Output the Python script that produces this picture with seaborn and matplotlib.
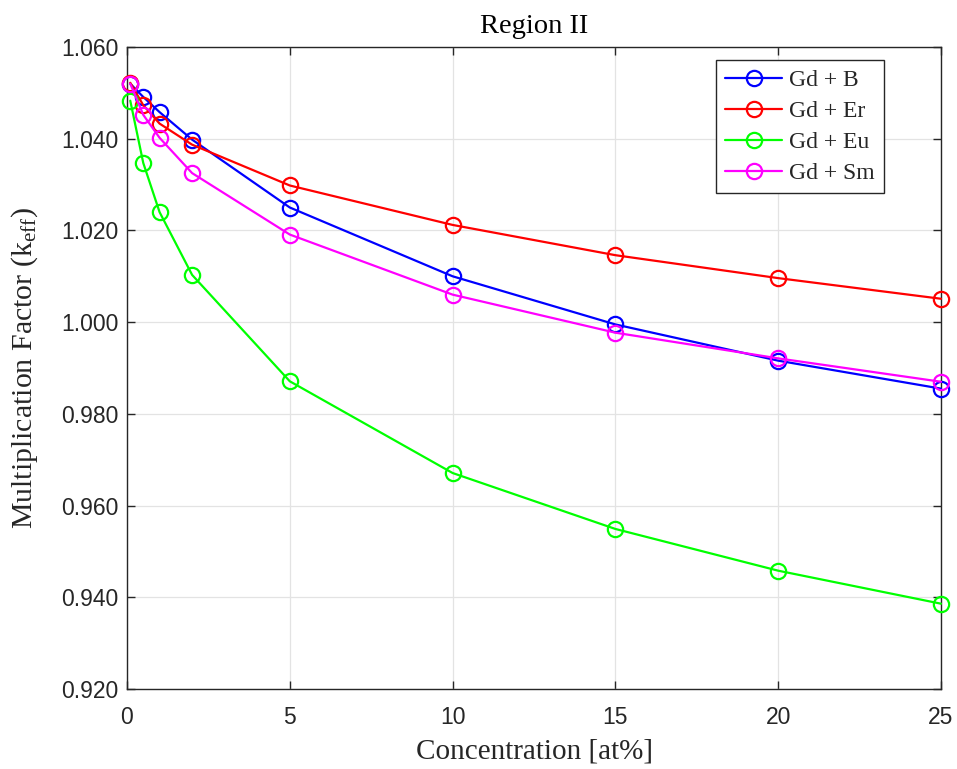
import matplotlib
matplotlib.use("Agg")
import matplotlib.pyplot as plt
import seaborn as sns
import pandas as pd
from matplotlib.lines import Line2D

concentration = [0.1, 0.5, 1, 2, 5, 10, 15, 20, 25]
gd_b = [1.0520, 1.0491, 1.0458, 1.0398, 1.0250, 1.0100, 0.9995, 0.9916, 0.9855]
gd_er = [1.0522, 1.0473, 1.0433, 1.0387, 1.0298, 1.0212, 1.0146, 1.0096, 1.0051]
gd_eu = [1.0483, 1.0347, 1.0240, 1.0103, 0.9871, 0.9671, 0.9549, 0.9458, 0.9386]
gd_sm = [1.0520, 1.0452, 1.0402, 1.0325, 1.0191, 1.0060, 0.9977, 0.9921, 0.9870]

series_names = ["Gd + B", "Gd + Er", "Gd + Eu", "Gd + Sm"]
series_values = [gd_b, gd_er, gd_eu, gd_sm]
series_colors = ["#0000ff", "#ff0000", "#00ff00", "#ff00ff"]

x_ticks = [0, 5, 10, 15, 20, 25]
y_ticks = [0.92, 0.94, 0.96, 0.98, 1.00, 1.02, 1.04, 1.06]

sns.set_theme(style="ticks")
plt.rcParams["font.family"] = ["Liberation Serif", "DejaVu Serif"]
plt.rcParams["mathtext.fontset"] = "custom"
plt.rcParams["mathtext.rm"] = "Liberation Serif"
plt.rcParams["mathtext.it"] = "Liberation Serif:italic"

rows = []
for name, vals in zip(series_names, series_values):
    for xv, yv in zip(concentration, vals):
        rows.append({"Concentration": xv, "keff": yv, "Series": name})
df = pd.DataFrame(rows)

fig = plt.figure(figsize=(9.57, 7.69), dpi=100)
ax = fig.add_axes([127 / 957, 1 - 689 / 769, (941 - 127) / 957, (689 - 47) / 769])

for name, color in zip(series_names, series_colors):
    sub = df[df["Series"] == name]
    sns.lineplot(data=sub, x="Concentration", y="keff", ax=ax, color=color,
                 marker="o", markersize=11, markerfacecolor="none",
                 markeredgecolor=color, markeredgewidth=1.6, linewidth=1.6,
                 label=name, legend=False, zorder=3, clip_on=False)

ax.set_xlim(0, 25)
ax.set_ylim(0.92, 1.06)
ax.set_xticks(x_ticks)
ax.set_yticks(y_ticks)
ax.set_yticklabels([f"{v:.3f}" for v in y_ticks])
ax.grid(True, color="#e3e3e3", linewidth=0.9, zorder=0)
ax.tick_params(direction="in", length=6, width=1.0, labelsize=16.5, colors="#262626",
               top=True, right=True)
ax.tick_params(axis="y", pad=6)
ax.tick_params(axis="x", pad=12)
for lab in ax.get_xticklabels() + ax.get_yticklabels():
    lab.set_fontfamily(["Liberation Sans", "DejaVu Sans"])
for sp in ax.spines.values():
    sp.set_visible(True)
    sp.set_color("#262626")
    sp.set_linewidth(1.0)

ax.set_xlabel("Concentration [at%]", fontsize=21, color="#262626", labelpad=7)
ax.set_ylabel("Multiplication Factor (k$_{\\mathrm{eff}}$)", fontsize=21.5, color="#262626", labelpad=15)
ax.set_title("Region II", fontsize=20.5, color="black", pad=10)

handles = [Line2D([0], [0], color=c, marker="o", markersize=11, markerfacecolor="none",
                  markeredgecolor=c, markeredgewidth=1.6, linewidth=1.6) for c in series_colors]
leg = ax.legend(handles, series_names, loc="upper left",
                bbox_to_anchor=((716 - 127) / 814, (689 - 60) / 642), borderaxespad=0,
                fontsize=17, frameon=True, fancybox=False, framealpha=1,
                edgecolor="#262626", handlelength=2.4, borderpad=0.4, labelspacing=0.4,
                handletextpad=0.3)
leg.get_frame().set_linewidth(1.0)

fig.savefig("out.png", dpi=100, facecolor="white")
